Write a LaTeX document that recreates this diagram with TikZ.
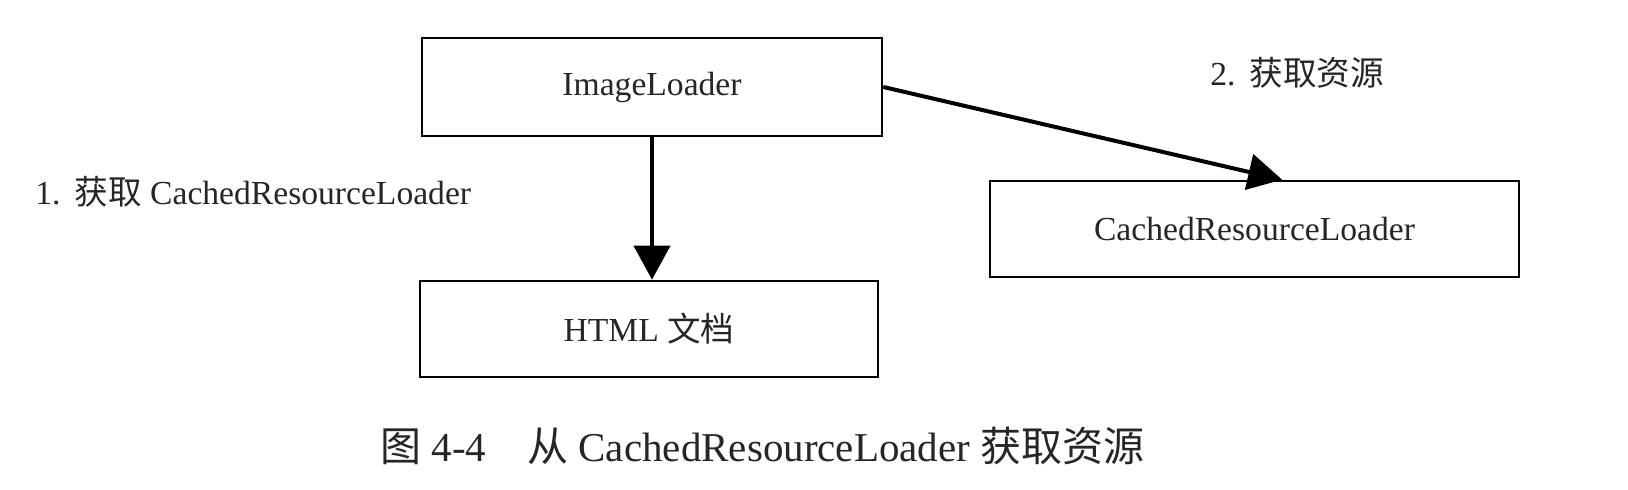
\documentclass[tikz,border=0pt]{standalone}
\usepackage{fontspec}
\setmainfont{Liberation Serif}
\newfontfamily\cjk{Noto Sans CJK SC}
\usetikzlibrary{arrows.meta,calc}
\tikzset{
  box/.style={draw=black, line width=1.3pt, inner sep=0pt, font=\fontsize{16.8pt}{20pt}\selectfont, text=black!85},
  lbl/.style={inner sep=0pt, font=\fontsize{16.8pt}{20pt}\selectfont, text=black!85},
  captext/.style={inner sep=0pt, font=\fontsize{20.5pt}{24pt}\selectfont, text=black!85},
  conn/.style={line width=2pt, -{Triangle[width=18pt,length=17pt]}}
}
\begin{document}
\begin{tikzpicture}[x=0.5pt,y=-0.5pt]
\useasboundingbox[fill=white] (0,0) rectangle (1628,490);
\node[box, minimum width=230pt, minimum height=49pt] (il) at (652,87) {ImageLoader};
\node[box, minimum width=229pt, minimum height=48pt] (html) at (649,329) {HTML {\cjk 文档}};
\node[box, minimum width=264.5pt, minimum height=48pt] (crl) at (1254.5,229) {CachedResourceLoader};
\node[lbl, anchor=base west] (l1) at (35,205) {1.\ \,{\cjk 获取} CachedResourceLoader};
\node[lbl, anchor=base west] (l2) at (1210,86) {2.\ \,{\cjk 获取资源}};
\node[captext, anchor=base west] (c) at (380,462) {{\cjk 图} 4-4\quad {\cjk 从} CachedResourceLoader {\cjk 获取资源}};
\draw[conn] (il.south) -- (il.south |- html.north);
\draw[conn] (il.east) -- ($(crl.north west)!0.552!(crl.north east)$);
\end{tikzpicture}
\end{document}
